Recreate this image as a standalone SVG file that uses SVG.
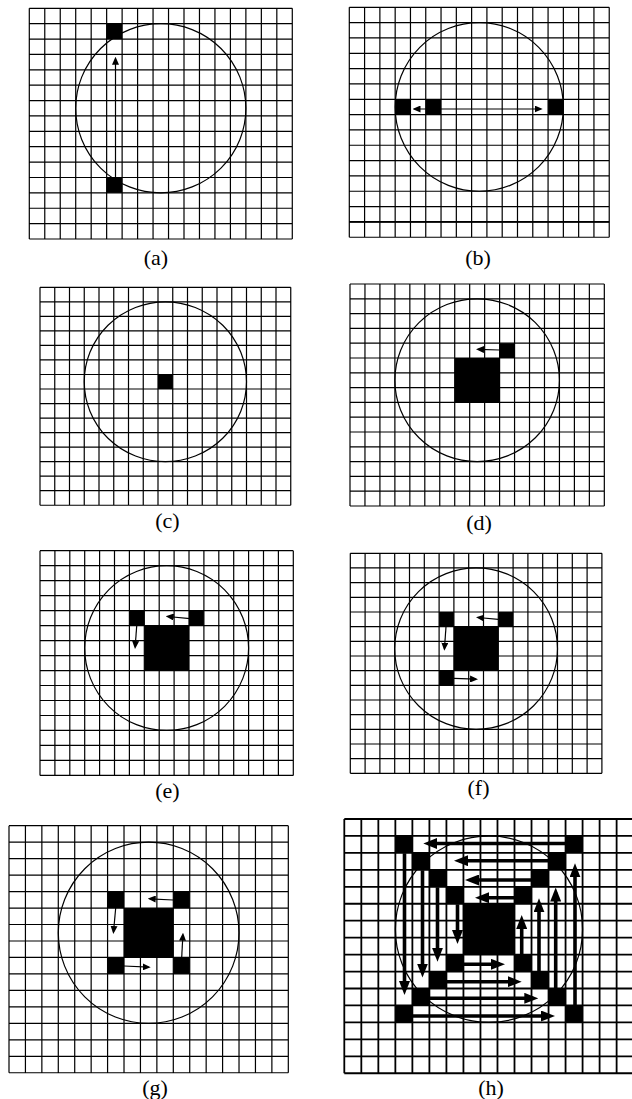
<svg xmlns="http://www.w3.org/2000/svg" xmlns:xlink="http://www.w3.org/1999/xlink" width="632" height="1099" viewBox="0 0 632 1099">
<style>
.bg{fill:#fff}
.grid{fill:none;stroke:#000;stroke-width:1.2}
.gridh{fill:none;stroke:#000;stroke-width:1.8}
.circ{fill:none;stroke:#000;stroke-width:1.2;vector-effect:non-scaling-stroke}
.thick{fill:none;stroke:#000;stroke-width:1.8;vector-effect:non-scaling-stroke}
.cell{fill:#000}
.lab{font-family:"Liberation Serif","Times New Roman",serif;font-size:22px;text-anchor:middle;fill:#000}
.arr{fill:none;stroke:#000;stroke-width:1.2;marker-end:url(#ah)}
.arr2{fill:none;stroke:#000;stroke-width:1.2;marker-start:url(#ah);marker-end:url(#ah)}
.big{fill:none;stroke:#000;stroke-width:3.6;marker-end:url(#bh)}
</style>
<defs>
<path id="gridpath" vector-effect="non-scaling-stroke" d="M0,0V15M1,0V15M2,0V15M3,0V15M4,0V15M5,0V15M6,0V15M7,0V15M8,0V15M9,0V15M10,0V15M11,0V15M12,0V15M13,0V15M14,0V15M15,0V15M16,0V15M17,0V15M0,0H17M0,1H17M0,2H17M0,3H17M0,4H17M0,5H17M0,6H17M0,7H17M0,8H17M0,9H17M0,10H17M0,11H17M0,12H17M0,13H17M0,14H17M0,15H17"/>
<marker id="ah" markerUnits="userSpaceOnUse" viewBox="0 0 8 7" markerWidth="8" markerHeight="7" refX="6" refY="3.5" orient="auto-start-reverse">
<path d="M0,0L8,3.5L0,7z" fill="#000"/>
</marker>
<marker id="bh" markerUnits="userSpaceOnUse" viewBox="0 0 14 11" markerWidth="14" markerHeight="11" refX="9" refY="5.5" orient="auto">
<path d="M0,0L14,5.5L0,11z" fill="#000"/>
</marker>
</defs>
<rect class="bg" x="0" y="0" width="632" height="1099"/>

<g id="panel-a">
<g transform="translate(29.3,8.3) scale(15.47,15.38)">
<use xlink:href="#gridpath" class="grid"/>
<ellipse class="circ" cx="8.5" cy="6.5" rx="5.5" ry="5.5"/>
<rect class="cell" x="5" y="1" width="1" height="1"/>
<rect class="cell" x="5" y="11" width="1" height="1"/>
</g>
<text class="lab" x="156" y="265">(a)</text>
</g>

<g id="panel-b">
<g transform="translate(349.3,7.3) scale(15.29,15.33)">
<use xlink:href="#gridpath" class="grid"/>
<path class="thick" d="M0,14H17"/>
<ellipse class="circ" cx="8.5" cy="6.5" rx="5.5" ry="5.5"/>
<rect class="cell" x="3" y="6" width="1" height="1"/>
<rect class="cell" x="5" y="6" width="1" height="1"/>
<rect class="cell" x="13" y="6" width="1" height="1"/>
</g>
<text class="lab" x="478" y="265">(b)</text>
</g>

<g id="panel-c">
<g transform="translate(40,287.3) scale(14.75,14.53)">
<use xlink:href="#gridpath" class="grid"/>
<ellipse class="circ" cx="8.5" cy="6.5" rx="5.5" ry="5.5"/>
<rect class="cell" x="8" y="6" width="1" height="1"/>
</g>
<text class="lab" x="167.5" y="528">(c)</text>
</g>

<g id="panel-d">
<g transform="translate(350,284) scale(14.96,14.8)">
<use xlink:href="#gridpath" class="grid"/>
<ellipse class="circ" cx="8.5" cy="6.5" rx="5.5" ry="5.5"/>
<rect class="cell" x="7" y="5" width="3" height="3"/>
<rect class="cell" x="10" y="4" width="1" height="1"/>
</g>
<text class="lab" x="479" y="529.5">(d)</text>
</g>

<g id="panel-e">
<g transform="translate(40,550.7) scale(14.9,14.98)">
<use xlink:href="#gridpath" class="grid"/>
<ellipse class="circ" cx="8.5" cy="6.5" rx="5.5" ry="5.5"/>
<rect class="cell" x="7" y="5" width="3" height="3"/>
<rect class="cell" x="6" y="4" width="1" height="1"/>
<rect class="cell" x="10" y="4" width="1" height="1"/>
</g>
<text class="lab" x="167.5" y="798">(e)</text>
</g>

<g id="panel-f">
<g transform="translate(350.3,553.3) scale(14.8,14.67)">
<use xlink:href="#gridpath" class="grid"/>
<ellipse class="circ" cx="8.5" cy="6.5" rx="5.5" ry="5.5"/>
<rect class="cell" x="7" y="5" width="3" height="3"/>
<rect class="cell" x="6" y="4" width="1" height="1"/>
<rect class="cell" x="10" y="4" width="1" height="1"/>
<rect class="cell" x="6" y="8" width="1" height="1"/>
</g>
<text class="lab" x="478.5" y="794.5">(f)</text>
</g>

<g id="panel-g">
<g transform="translate(9,825.7) scale(16.43,16.47)">
<use xlink:href="#gridpath" class="grid"/>
<ellipse class="circ" cx="8.5" cy="6.5" rx="5.5" ry="5.5"/>
<rect class="cell" x="7" y="5" width="3" height="3"/>
<rect class="cell" x="6" y="4" width="1" height="1"/>
<rect class="cell" x="10" y="4" width="1" height="1"/>
<rect class="cell" x="6" y="8" width="1" height="1"/>
<rect class="cell" x="10" y="8" width="1" height="1"/>
</g>
<text class="lab" x="155" y="1095">(g)</text>
</g>

<g id="panel-h">
<g transform="translate(344.3,819) scale(17.02,16.95)">
<use xlink:href="#gridpath" class="gridh"/>
<ellipse class="circ" cx="8.5" cy="6.5" rx="5.5" ry="5.5"/>
<rect class="cell" x="7" y="5" width="3" height="3"/>
<rect class="cell" x="6" y="4" width="1" height="1"/>
<rect class="cell" x="10" y="4" width="1" height="1"/>
<rect class="cell" x="6" y="8" width="1" height="1"/>
<rect class="cell" x="10" y="8" width="1" height="1"/>
<rect class="cell" x="5" y="3" width="1" height="1"/>
<rect class="cell" x="11" y="3" width="1" height="1"/>
<rect class="cell" x="5" y="9" width="1" height="1"/>
<rect class="cell" x="11" y="9" width="1" height="1"/>
<rect class="cell" x="4" y="2" width="1" height="1"/>
<rect class="cell" x="12" y="2" width="1" height="1"/>
<rect class="cell" x="4" y="10" width="1" height="1"/>
<rect class="cell" x="12" y="10" width="1" height="1"/>
<rect class="cell" x="3" y="1" width="1" height="1"/>
<rect class="cell" x="13" y="1" width="1" height="1"/>
<rect class="cell" x="3" y="11" width="1" height="1"/>
<rect class="cell" x="13" y="11" width="1" height="1"/>
</g>
<text class="lab" x="491" y="1095">(h)</text>
</g>

<g id="connectors">
<path class="arr" d="M115.5,177.5L115.5,58.7"/>
<path class="arr2" d="M414.5,109L540.7,109"/>
<path class="arr" d="M499.6,350L478,349.4"/>
<path class="arr" d="M190,618.7L167.7,616.5"/>
<path class="arr" d="M136.7,626L135.15,647"/>
<path class="arr" d="M498.3,619.3L478,617.5"/>
<path class="arr" d="M446,626.7L444.45,648.7"/>
<path class="arr" d="M453.9,678.3L476,679.2"/>
<path class="arr" d="M173.3,900L149.7,898.8"/>
<path class="arr" d="M115.7,908L113.5,932"/>
<path class="arr" d="M124,966L148.7,967.2"/>
<path class="arr" d="M181.7,957.5L182.9,934.7"/>
<path class="big" d="M565.7,843.5L428.3,843.5"/>
<path class="big" d="M548.7,860.7L459,860.7"/>
<path class="big" d="M531.7,880L470,880"/>
<path class="big" d="M514.7,897.7L480,897.7"/>
<path class="big" d="M404.5,853.3L404.5,990"/>
<path class="big" d="M422.5,870.3L422.5,972.5"/>
<path class="big" d="M437.5,887.3L437.5,956.7"/>
<path class="big" d="M457.5,904.3L457.5,939"/>
<path class="big" d="M463.7,964.3L500,964.3"/>
<path class="big" d="M446.7,981.7L516.7,981.7"/>
<path class="big" d="M429.7,998.3L533.3,998.3"/>
<path class="big" d="M412.7,1016L550,1016"/>
<path class="big" d="M521.7,954.7L521.7,920"/>
<path class="big" d="M539,971.7L539,903.3"/>
<path class="big" d="M555.7,988.7L555.7,892.5"/>
<path class="big" d="M575,1005.7L575,868.3"/>
</g>
</svg>
